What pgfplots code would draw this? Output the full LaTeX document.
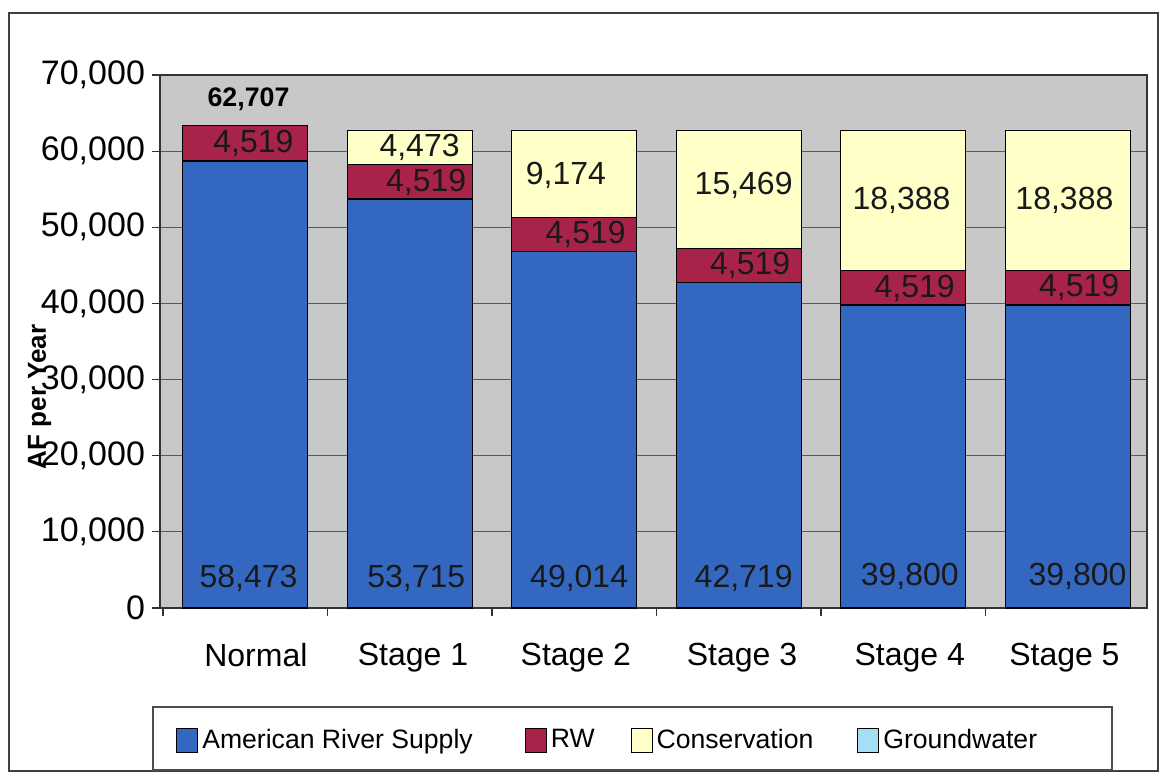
\documentclass[border=0pt]{standalone}
\usepackage{pgfplots}
\pgfplotsset{compat=1.18}
\usepackage{pgfplotstable}
\usepackage{fontspec}
\setmainfont{Liberation Sans}
\definecolor{ars}{RGB}{52,104,192}
\definecolor{rw}{RGB}{168,35,74}
\definecolor{cons}{RGB}{255,255,200}
\definecolor{gw}{RGB}{165,222,245}
\definecolor{plotbg}{RGB}{200,200,200}
\pgfplotstableread{
x     y      lab
0.02  3950   58,473
1.04  3950   53,715
2.03  3950   49,014
3.03  3950   42,719
4.04  4100   39,800
5.06  4200   39,800
0.05  61050  4,519
1.10  55950  4,519
2.07  49050  4,519
3.07  44950  4,519
4.07  41950  4,519
5.07  42050  4,519
1.06  60470  4,473
1.95  56800  9,174
3.03  55500  15,469
3.99  53500  18,388
4.98  53500  18,388
}\labels
\begin{document}
\begin{tikzpicture}[x=1pt,y=1pt]
\path[use as bounding box] (-80,-82) rectangle (500.5,304);
\draw[black!75, line width=0.9pt] (-75.5,-81.5) rectangle (499,297.5);
\draw[black!70, line width=0.8pt] (-3.5,-49.5) rectangle (476,-81);
\begin{axis}[
  at={(0,0)}, anchor=south west,
  scale only axis, width=493.5pt, height=266.5pt,
  ybar stacked, bar width=0.76,
  legend image code/.code={\draw[#1, draw=black, line width=0.5pt] (0pt,-6pt) rectangle (10.5pt,6pt);},
  xmin=-0.518, xmax=5.482, ymin=0, ymax=70000,
  axis background/.style={fill=plotbg},
  axis line style={black!80, line width=0.6pt},
  tick align=outside, tick pos=left,
  xtick={0.065,1.02,2.01,3.02,4.04,4.98},
  xticklabels={Normal,Stage 1,Stage 2,Stage 3,Stage 4,Stage 5},
  major x tick style={draw=none},
  minor xtick={-0.5,0.5,1.5,2.5,3.5,4.5,5.5},
  minor tick length=4pt, major tick length=4pt,
  tick style={black!80, line width=0.6pt},
  xticklabel style={font=\fontsize{16}{18}\selectfont, yshift=-10pt},
  ytick={0,10000,20000,30000,40000,50000,60000,70000},
  scaled y ticks=false,
  yticklabel style={font=\fontsize{17}{19}\selectfont, /pgf/number format/.cd, 1000 sep={,}, assume math mode=true},
  ymajorgrids, grid style={black!65, line width=0.6pt},
  ylabel={AF per Year},
  ylabel style={font=\bfseries\fontsize{13}{15}\selectfont, at={(axis description cs:-0.122,0.396)}, anchor=center},
  legend columns=4,
  legend style={at={(axis description cs:0.010,-0.248)}, anchor=west, draw=none, fill=none,
    font=\fontsize{13.3}{15}\selectfont,
    /tikz/column 2/.style={column sep=24pt},
    /tikz/column 4/.style={column sep=16pt},
    /tikz/column 6/.style={column sep=20pt}},
]
\addplot[fill=ars, draw=black, line width=0.6pt] coordinates {(0,58700) (1,53715) (2,46800) (3,42719) (4,39800) (5,39800)};
\addlegendentry{American River Supply}
\addplot[fill=rw, draw=black, line width=0.6pt] coordinates {(0,4700) (1,4519) (2,4519) (3,4519) (4,4519) (5,4519)};
\addlegendentry{RW}
\addplot[fill=cons, draw=black, line width=0.6pt] coordinates {(0,0) (1,4473) (2,11388) (3,15469) (4,18388) (5,18388)};
\addlegendentry{Conservation}
\addplot[fill=gw, draw=none] coordinates {(0,0) (1,0) (2,0) (3,0) (4,0) (5,0)};
\addlegendentry{Groundwater}
\end{axis}
\begin{axis}[
  at={(0,0)}, anchor=south west,
  scale only axis, width=493.5pt, height=266.5pt,
  xmin=-0.518, xmax=5.482, ymin=0, ymax=70000,
  hide axis, clip=false,
]
\addplot[draw=none, mark=none, nodes near coords, point meta=explicit symbolic,
  nodes near coords style={anchor=center, font=\fontsize{16}{18}\selectfont, text=black!90}]
  table[x=x, y=y, meta=lab] {\labels};
\addplot[draw=none, mark=none, nodes near coords, point meta=explicit symbolic,
  nodes near coords style={anchor=center, font=\bfseries\fontsize{13.4}{15}\selectfont}]
  table[meta=lab] {
x y lab
0.02 66800 62,707
};
\end{axis}
\end{tikzpicture}
\end{document}
